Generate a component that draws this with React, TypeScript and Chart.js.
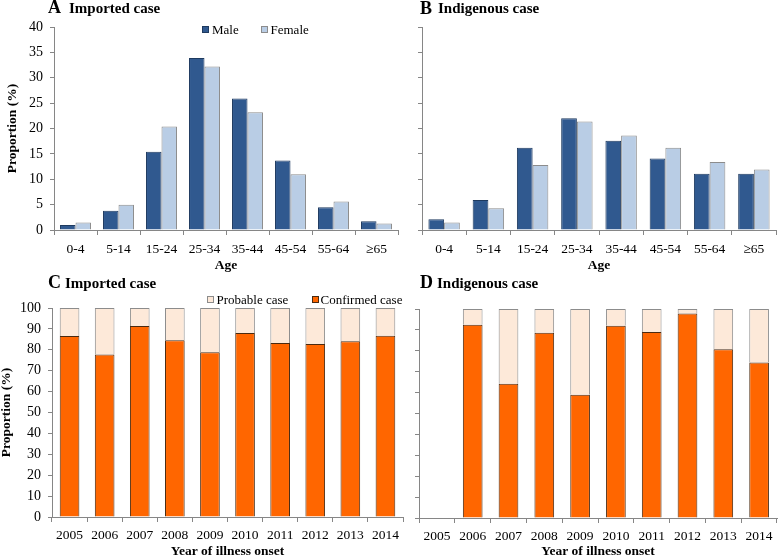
import React, { useEffect, useRef } from 'react';
import { Chart, registerables } from 'chart.js';
Chart.register(...registerables);

const ageGroups = ['0-4', '5-14', '15-24', '25-34', '35-44', '45-54', '55-64', '≥65'];
const importedMale = [1.0, 3.8, 15.4, 33.9, 25.9, 13.7, 4.5, 1.7];
const importedFemale = [1.5, 5.0, 20.4, 32.2, 23.2, 11.0, 5.6, 1.3];
const indigenousMale = [2.1, 5.9, 16.2, 22.0, 17.6, 14.1, 11.1, 11.1];
const indigenousFemale = [1.5, 4.3, 12.8, 21.4, 18.6, 16.2, 13.4, 11.9];

const years = ['2005', '2006', '2007', '2008', '2009', '2010', '2011', '2012', '2013', '2014'];
const importedConfirmed = [86.6, 77.8, 91.4, 84.6, 78.8, 88.0, 83.2, 82.8, 84.1, 86.7];
const importedProbable = [13.4, 22.2, 8.6, 15.4, 21.2, 12.0, 16.8, 17.2, 15.9, 13.3];
const indigenousConfirmed = [null, 92.5, 64.2, 88.6, 59.0, 92.0, 89.0, 97.8, 80.8, 74.4];
const indigenousProbable = [null, 7.5, 35.8, 11.4, 41.0, 8.0, 11.0, 2.2, 19.2, 25.6];

const ageTicks = [0, 5, 10, 15, 20, 25, 30, 35, 40];
const pctTicks = [0, 10, 20, 30, 40, 50, 60, 70, 80, 90, 100];

const FONT = "'Liberation Serif', 'Times New Roman', serif";
const AXIS = '#868686';
const MALE = '#30598F';
const MALE_BORDER = '#1E3A5F';
const FEMALE = '#B9CDE5';
const FEMALE_BORDER = '#8C8C8C';
const CONFIRMED = '#FF6600';
const CONFIRMED_BORDER = '#4A2A10';
const PROBABLE = '#FDE9D9';
const PROBABLE_BORDER = '#8C8C8C';

type PanelCfg = {
  left: number; top: number; width: number; height: number;
  labels: string[];
  datasets: any[];
  stacked: boolean;
  yMax: number; yStep: number;
  yWidth: number; xHeight: number;
  padTop: number; padRight: number;
  showYLabels: boolean;
  yTitlePad: number;
  xTickPad: number;
  xTitle: string;
  catPct: number;
};

function Panel({ cfg }: { cfg: PanelCfg }) {
  const ref = useRef<HTMLCanvasElement | null>(null);
  useEffect(() => {
    if (!ref.current) return;
    const chart = new Chart(ref.current, {
      type: 'bar',
      data: { labels: cfg.labels, datasets: cfg.datasets },
      options: {
        animation: false,
        responsive: false,
        maintainAspectRatio: false,
        layout: { padding: { top: cfg.padTop, right: cfg.padRight, left: 0, bottom: 0 } },
        plugins: { legend: { display: false }, tooltip: { enabled: false }, title: { display: false } },
        datasets: { bar: { categoryPercentage: cfg.catPct, barPercentage: 1 } },
        scales: {
          x: {
            stacked: cfg.stacked,
            ticks: { font: { family: FONT, size: 13.5 }, color: '#000', padding: cfg.xTickPad, maxRotation: 0, autoSkip: false },
            grid: { offset: true, drawOnChartArea: false, drawTicks: true, tickLength: 5, color: AXIS },
            border: { display: true, color: AXIS, width: 1 },
            title: {
              display: true, text: cfg.xTitle, color: '#000',
              font: { family: FONT, size: 13.5, weight: 'bold', lineHeight: 1 },
              padding: { top: 0, bottom: 0 },
            },
            afterFit: (s: any) => { s.height = cfg.xHeight; },
          },
          y: {
            stacked: cfg.stacked,
            min: 0, max: cfg.yMax,
            ticks: {
              stepSize: cfg.yStep, font: { family: FONT, size: 14 }, color: '#000', padding: 7,
              callback: (v: any) => (cfg.showYLabels ? String(v) : ''),
            },
            grid: { drawOnChartArea: false, drawTicks: true, tickLength: 4, color: AXIS },
            border: { display: true, color: AXIS, width: 1 },
            title: {
              display: cfg.showYLabels, text: 'Proportion (%)', color: '#000',
              font: { family: FONT, size: 13.5, weight: 'bold', lineHeight: 1 },
              padding: { top: cfg.yTitlePad, bottom: 0 },
            },
            afterFit: (s: any) => { s.width = cfg.yWidth; },
          },
        },
      } as any,
    });
    return () => chart.destroy();
  }, []);
  return (
    <canvas
      ref={ref}
      width={cfg.width}
      height={cfg.height}
      style={{ position: 'absolute', left: cfg.left, top: cfg.top, width: cfg.width, height: cfg.height }}
    />
  );
}

function Text({ x, baseline, size, bold, children }: { x: number; baseline: number; size: number; bold?: boolean; children: any }) {
  return (
    <div
      style={{
        position: 'absolute', left: x, top: baseline - 0.8375 * size, fontFamily: FONT, fontSize: size,
        lineHeight: `${size}px`, fontWeight: bold ? 'bold' : 'normal', whiteSpace: 'nowrap', color: '#000',
      }}
    >
      {children}
    </div>
  );
}

function Swatch({ x, y, fill, border }: { x: number; y: number; fill: string; border: string }) {
  return (
    <div style={{ position: 'absolute', left: x, top: y, width: 5, height: 5, background: fill, border: `1px solid ${border}` }} />
  );
}

const ageDatasets = (m: number[], f: number[]) => [
  { label: 'Male', data: m, backgroundColor: MALE, borderColor: MALE_BORDER, borderWidth: 1 },
  { label: 'Female', data: f, backgroundColor: FEMALE, borderColor: FEMALE_BORDER, borderWidth: 1 },
];
const yearDatasets = (c: (number | null)[], p: (number | null)[]) => [
  { label: 'Confirmed case', data: c, backgroundColor: CONFIRMED, borderColor: CONFIRMED_BORDER, borderWidth: 1 },
  { label: 'Probable case', data: p, backgroundColor: PROBABLE, borderColor: PROBABLE_BORDER, borderWidth: 1 },
];

const panelA: PanelCfg = {
  left: 0, top: 0, width: 404, height: 272, labels: ageGroups,
  datasets: ageDatasets(importedMale, importedFemale), stacked: false,
  yMax: ageTicks[ageTicks.length - 1], yStep: ageTicks[1] - ageTicks[0],
  yWidth: 54, xHeight: 42, padTop: 27, padRight: 6, showYLabels: true, yTitlePad: 6, xTickPad: 6,
  xTitle: 'Age', catPct: 0.72,
};
const panelB: PanelCfg = {
  left: 400, top: 0, width: 378, height: 272, labels: ageGroups,
  datasets: ageDatasets(indigenousMale, indigenousFemale), stacked: false,
  yMax: ageTicks[ageTicks.length - 1], yStep: ageTicks[1] - ageTicks[0],
  yWidth: 22, xHeight: 42, padTop: 27, padRight: 2, showYLabels: false, yTitlePad: 0, xTickPad: 6,
  xTitle: 'Age', catPct: 0.71,
};
const panelC: PanelCfg = {
  left: 0, top: 280, width: 405, height: 278, labels: years,
  datasets: yearDatasets(importedConfirmed, importedProbable), stacked: true,
  yMax: pctTicks[pctTicks.length - 1], yStep: pctTicks[1] - pctTicks[0],
  yWidth: 52, xHeight: 41, padTop: 28, padRight: 2, showYLabels: true, yTitlePad: 0, xTickPad: 5,
  xTitle: 'Year of illness onset', catPct: 0.56,
};
const panelD: PanelCfg = {
  left: 400, top: 280, width: 378, height: 278, labels: years,
  datasets: yearDatasets(indigenousConfirmed, indigenousProbable), stacked: true,
  yMax: pctTicks[pctTicks.length - 1], yStep: pctTicks[1] - pctTicks[0],
  yWidth: 19, xHeight: 40, padTop: 29, padRight: 1, showYLabels: false, yTitlePad: 0, xTickPad: 5,
  xTitle: 'Year of illness onset', catPct: 0.55,
};

export default function App() {
  return (
    <div style={{ position: 'fixed', left: 0, top: 0, width: 778, height: 558, overflow: 'hidden', background: '#fff' }}>
      <Panel cfg={panelA} />
      <Panel cfg={panelB} />
      <Panel cfg={panelC} />
      <Panel cfg={panelD} />

      <Text x={48} baseline={13.5} size={18} bold>A</Text>
      <Text x={69} baseline={13.5} size={15} bold>Imported case</Text>
      <Text x={420} baseline={14} size={18} bold>B</Text>
      <Text x={438} baseline={14} size={15} bold>Indigenous case</Text>
      <Text x={48} baseline={288.5} size={18} bold>C</Text>
      <Text x={65} baseline={288.5} size={15} bold>Imported case</Text>
      <Text x={420} baseline={288.5} size={18} bold>D</Text>
      <Text x={437} baseline={288.5} size={15} bold>Indigenous case</Text>

      <Swatch x={202} y={26} fill={MALE} border={MALE_BORDER} />
      <Text x={212} baseline={34} size={13}>Male</Text>
      <Swatch x={261} y={26} fill={FEMALE} border={FEMALE_BORDER} />
      <Text x={270.5} baseline={34} size={13}>Female</Text>

      <Swatch x={206.5} y={296} fill={PROBABLE} border={PROBABLE_BORDER} />
      <Text x={216.5} baseline={303.6} size={13}>Probable case</Text>
      <Swatch x={311.5} y={296} fill={CONFIRMED} border={CONFIRMED_BORDER} />
      <Text x={320.5} baseline={303.6} size={13}>Confirmed case</Text>
    </div>
  );
}
